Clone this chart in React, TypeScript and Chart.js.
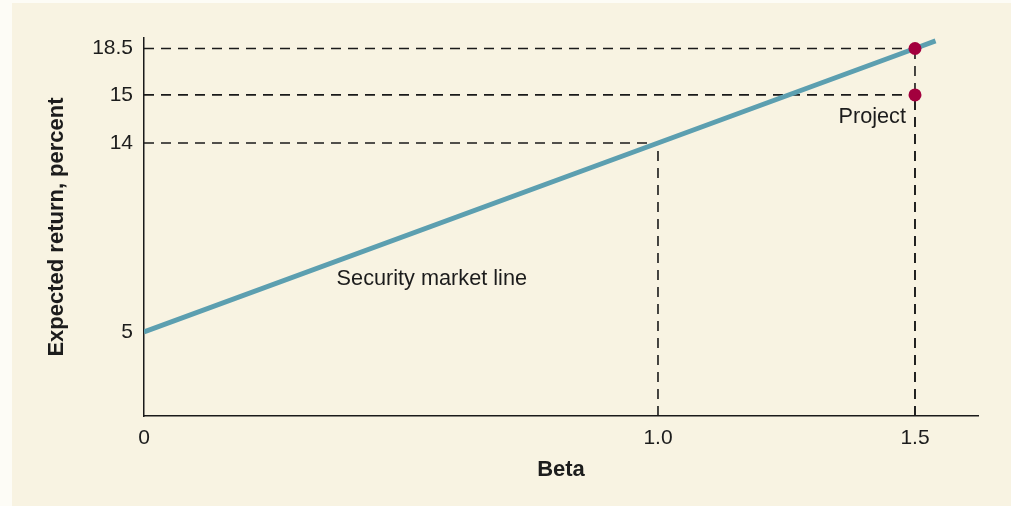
import React, { useEffect, useRef } from "react";
import { Chart, registerables, LinearScale } from "chart.js";

// ---- data ----
const SML_BETA = [0, 1.0, 1.5, 1.54];
const SML_RETURN = [5, 14, 18.5, 18.86];
const POINT_BETA = [1.5, 1.5];
const POINT_RETURN = [18.5, 15];
const GUIDE_BETA = [1.0, 1.5, 1.5];
const GUIDE_RETURN = [14, 18.5, 15];
const Y_TICKS = [5, 14, 15, 18.5];
const Y_TICK_LABELS = ["5", "14", "15", "18.5"];
const X_TICKS = [0, 1.0, 1.5];
const X_TICK_LABELS = ["0", "1.0", "1.5"];
const SML_LABEL = "Security market line";
const PROJECT_LABEL = "Project";
const Y_TITLE = "Expected return, percent";
const X_TITLE = "Beta";

// schematic (non-proportional) vertical axis of the original figure
const WARP_VALUE = [0, 14, 15, 18.5, 30];
const WARP_DISPLAY = [0, 14, 16.29, 18.5, 30];

function interp(v: number, from: number[], to: number[]) {
  if (v <= from[0]) return to[0] + (v - from[0]);
  for (let i = 1; i < from.length; i++) {
    if (v <= from[i]) {
      const t = (v - from[i - 1]) / (from[i] - from[i - 1]);
      return to[i - 1] + t * (to[i] - to[i - 1]);
    }
  }
  return to[to.length - 1] + (v - from[from.length - 1]);
}

class WarpScale extends LinearScale {
  static id = "warp";
  static defaults = LinearScale.defaults;
  getPixelForValue(value: number) {
    return super.getPixelForValue(interp(value, WARP_VALUE, WARP_DISPLAY));
  }
  getValueForPixel(pixel: number) {
    return interp(super.getValueForPixel(pixel) as number, WARP_DISPLAY, WARP_VALUE);
  }
}

Chart.register(...registerables, WarpScale as any);

const FONT = '"Liberation Sans", Arial, sans-serif';
const TEXT = "#1c1c1c";
const LINE_COLOR = "#5c9fb0";
const POINT_COLOR = "#a3003e";
const DASH = [10, 7];

export default function App() {
  const ref = useRef<HTMLCanvasElement | null>(null);

  useEffect(() => {
    if (!ref.current) return;
    const yMin = 1;
    const guides: any[] = [];
    GUIDE_BETA.forEach((b, i) => {
      const r = GUIDE_RETURN[i];
      guides.push({
        data: [{ x: 0, y: r }, { x: b, y: r }],
        borderColor: "#1a1a1a",
        borderWidth: 1.6,
        borderDash: DASH,
        pointRadius: 0,
        order: 3,
      });
      guides.push({
        data: [{ x: b, y: yMin }, { x: b, y: r }],
        borderColor: "#1a1a1a",
        borderWidth: 1.6,
        borderDash: DASH,
        pointRadius: 0,
        order: 3,
      });
    });

    const labelsPlugin = {
      id: "labels",
      afterDatasetsDraw(chart: any) {
        const { ctx, scales } = chart;
        const xs = scales.x;
        const ys = scales.y;
        ctx.save();
        ctx.fillStyle = TEXT;
        ctx.font = `21.7px ${FONT}`;
        ctx.textBaseline = "middle";
        ctx.textAlign = "center";
        ctx.fillText(SML_LABEL, xs.getPixelForValue(0.56), ys.getPixelForValue(7.5));
        ctx.textAlign = "right";
        ctx.fillText(
          PROJECT_LABEL,
          xs.getPixelForValue(POINT_BETA[1]) - 9,
          ys.getPixelForValue(POINT_RETURN[1]) + 22
        );
        ctx.restore();
      },
    };

    const chart = new Chart(ref.current, {
      type: "line",
      data: {
        datasets: [
          {
            data: POINT_BETA.map((b, i) => ({ x: b, y: POINT_RETURN[i] })),
            showLine: false,
            pointRadius: 6.5,
            pointBackgroundColor: POINT_COLOR,
            pointBorderColor: POINT_COLOR,
            pointBorderWidth: 0,
            order: 1,
          },
          {
            data: SML_BETA.map((b, i) => ({ x: b, y: SML_RETURN[i] })),
            borderColor: LINE_COLOR,
            borderWidth: 5,
            pointRadius: 0,
            borderCapStyle: "butt",
            order: 2,
          },
          ...guides,
        ],
      },
      options: {
        animation: false,
        responsive: false,
        events: [],
        layout: { padding: { left: 0, top: 38, right: 33, bottom: 0 } },
        plugins: { legend: { display: false }, tooltip: { enabled: false } },
        scales: {
          x: {
            type: "linear",
            min: 0,
            max: 1.6226,
            grid: { display: false, drawTicks: false },
            border: { display: true, color: "#1a1a1a", width: 1.5 },
            afterBuildTicks: (s: any) => {
              s.ticks = X_TICKS.map((v) => ({ value: v }));
            },
            afterFit: (s: any) => {
              s.height = 90;
            },
            ticks: {
              padding: 10,
              color: TEXT,
              font: { family: FONT, size: 21 },
              maxRotation: 0,
              autoSkip: false,
              callback: (v: any) => {
                const i = X_TICKS.indexOf(Number(v));
                return i >= 0 ? X_TICK_LABELS[i] : "";
              },
            },
            title: {
              display: true,
              text: X_TITLE,
              color: TEXT,
              font: { family: FONT, size: 22, weight: "bold" },
              padding: { top: 0, bottom: 23 },
            },
          },
          y: {
            type: "warp" as any,
            min: yMin,
            max: 19,
            grid: { display: false, drawTicks: false },
            border: { display: true, color: "#1a1a1a", width: 1.5 },
            afterBuildTicks: (s: any) => {
              s.ticks = Y_TICKS.map((v) => ({ value: v }));
            },
            afterFit: (s: any) => {
              s.width = 144;
            },
            ticks: {
              padding: 11,
              color: TEXT,
              font: { family: FONT, size: 21 },
              autoSkip: false,
              callback: (v: any) => {
                const i = Y_TICKS.indexOf(Number(v));
                return i >= 0 ? Y_TICK_LABELS[i] : "";
              },
            },
            title: {
              display: true,
              text: Y_TITLE,
              color: TEXT,
              font: { family: FONT, size: 22, weight: "bold" },
              padding: { top: 44, bottom: 0 },
            },
          },
        },
      },
      plugins: [labelsPlugin],
    } as any);
    return () => chart.destroy();
  }, []);

  return (
    <div
      style={{
        position: "fixed",
        left: 0,
        top: 0,
        width: 1011,
        height: 506,
        background: "#fdfcf6",
        overflow: "hidden",
      }}
    >
      <div
        style={{
          position: "absolute",
          left: 12,
          top: 3,
          right: 0,
          bottom: 0,
          background: "#f8f3e2",
        }}
      />
      <canvas
        ref={ref}
        width={1011}
        height={506}
        style={{ position: "absolute", left: 0, top: 0, display: "block" }}
      />
    </div>
  );
}
